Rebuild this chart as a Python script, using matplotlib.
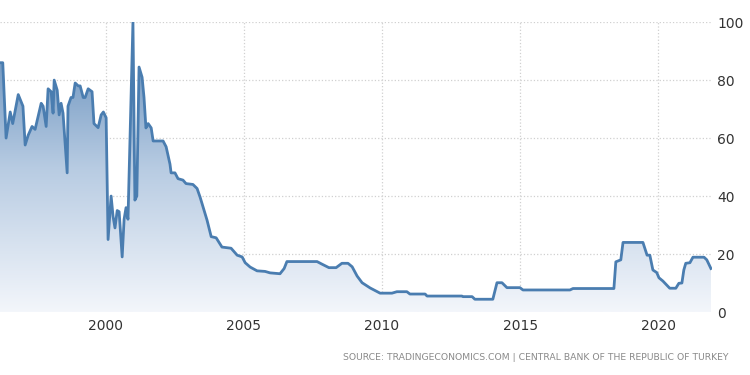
import numpy as np
import matplotlib.pyplot as plt
from matplotlib.colors import LinearSegmentedColormap

# policy / interbank rate (decimal year, percent)
years = [1996.18, 1996.28, 1996.40, 1996.55, 1996.64, 1996.84, 1997.01, 1997.09, 1997.20,
         1997.34, 1997.45, 1997.67, 1997.74, 1997.85, 1997.92, 1998.03, 1998.10, 1998.14,
         1998.25, 1998.32, 1998.39, 1998.46, 1998.61, 1998.64, 1998.75, 1998.82, 1998.90,
         1999.01, 1999.08, 1999.19, 1999.26, 1999.37, 1999.51, 1999.58, 1999.73, 1999.84,
         1999.92, 2000.02, 2000.09, 2000.20, 2000.27, 2000.34, 2000.42, 2000.49, 2000.60,
         2000.67, 2000.74, 2000.81, 2000.99, 2001.06, 2001.13, 2001.21, 2001.32, 2001.39,
         2001.46, 2001.54, 2001.65, 2001.72, 2002.08, 2002.19, 2002.33, 2002.37, 2002.51,
         2002.62, 2002.80, 2002.91, 2003.16, 2003.31, 2003.42, 2003.67, 2003.82, 2004.00,
         2004.21, 2004.54, 2004.76, 2004.94, 2005.05, 2005.23, 2005.48, 2005.77, 2005.95,
         2006.31, 2006.46, 2006.56, 2007.65, 2007.83, 2008.08, 2008.34, 2008.55, 2008.77,
         2008.92, 2009.10, 2009.28, 2009.57, 2009.93, 2010.36, 2010.54, 2010.90, 2011.01,
         2011.56, 2011.63, 2012.89, 2012.93, 2013.26, 2013.36, 2014.01, 2014.16, 2014.34,
         2014.52, 2014.99, 2015.10, 2016.80, 2016.91, 2018.39, 2018.46, 2018.64, 2018.72,
         2019.44, 2019.59, 2019.69, 2019.80, 2019.94, 2020.02, 2020.16, 2020.41, 2020.63,
         2020.74, 2020.85, 2020.92, 2020.99, 2021.14, 2021.25, 2021.65, 2021.75, 2021.90]
rates = [86, 86, 60, 69, 65, 75, 71, 57.6, 61,
         64, 63, 72, 71, 64, 77, 76, 68.6, 80,
         76.5, 68, 72, 68.6, 48, 71, 74, 74, 79,
         78, 78, 74, 74, 77, 76, 65, 63.6, 68,
         69, 67, 25, 40, 33, 29, 35, 34.6, 19,
         32, 36, 32, 100, 38.6, 40, 84.5, 81, 74,
         63.5, 65, 63.5, 59, 59, 57, 51, 48, 48,
         46, 45.5, 44.3, 44, 42.6, 39.6, 31.7, 26, 25.6,
         22.4, 22, 19.6, 19, 17, 15.5, 14.2, 14, 13.5,
         13.2, 15, 17.4, 17.4, 16.5, 15.3, 15.3, 16.8, 16.8,
         15.6, 12.4, 10.1, 8.3, 6.5, 6.5, 7, 7, 6.2,
         6.2, 5.5, 5.5, 5.3, 5.3, 4.4, 4.4, 10.1, 10.1,
         8.4, 8.4, 7.6, 7.6, 8.1, 8.1, 17.3, 18, 24,
         24, 19.6, 19.6, 14.5, 13.6, 11.8, 10.7, 8.2, 8.2,
         9.9, 10, 14.5, 16.8, 17, 18.9, 18.9, 18, 15]

xticks = [2000, 2005, 2010, 2015, 2020]
yticks = [0, 20, 40, 60, 80, 100]
source = 'SOURCE: TRADINGECONOMICS.COM | CENTRAL BANK OF THE REPUBLIC OF TURKEY'

line_color = '#4a7db0'

fig = plt.figure(figsize=(7.5, 3.75), dpi=100)
ax = fig.add_axes([0.0, 0.168, 0.949, 0.773])
ax.set_xlim(1996.18, 2021.93)
ax.set_ylim(0, 100)

# gradient fill under the line, clipped to the area polygon
area = ax.fill_between(years, rates, 0, color='none', lw=0)
cmap = LinearSegmentedColormap.from_list('tefill', ['#f3f6fb', '#b7cbe2', '#5c88b7'])
grad = np.linspace(0, 1, 256).reshape(-1, 1)
img = ax.imshow(grad, cmap=cmap, aspect='auto', origin='lower',
                extent=[1996.18, 2021.93, 0, 100], zorder=1)
clip = area.get_paths()[0]
img.set_clip_path(clip, transform=ax.transData)

ax.plot(years, rates, color=line_color, lw=2, zorder=3, solid_joinstyle='round')

ax.set_xticks(xticks)
ax.set_yticks(yticks)
ax.grid(True, color='#d0d0d0', linestyle=':', linewidth=0.9, zorder=0)
ax.set_axisbelow(True)
for s in ax.spines.values():
    s.set_visible(False)
ax.tick_params(axis='both', length=0, labelsize=10, labelcolor='#333333')
ax.tick_params(axis='x', pad=5)
ax.yaxis.tick_right()
ax.tick_params(axis='y', pad=4)

fig.text(0.971, 0.048, source, ha='right', va='center', fontsize=6.7, color='#8a8a8a')

fig.savefig('out.png', dpi=100)
